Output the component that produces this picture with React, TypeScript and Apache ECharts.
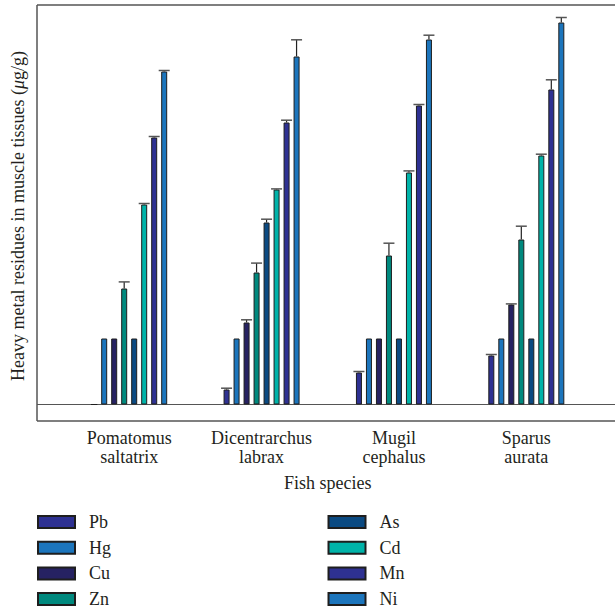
import React, { useEffect, useRef } from "react";
import * as echarts from "echarts";

const species = ["Pomatomus\nsaltatrix", "Dicentrarchus\nlabrax", "Mugil\ncephalus", "Sparus\naurata"];
const metals = ["Pb", "Hg", "Cu", "Zn", "As", "Cd", "Mn", "Ni"];
const metalColors = ["#2e3192", "#1c75bc", "#262262", "#00897e", "#0b4a82", "#00b3a9", "#2e3192", "#1c75bc"];

// Relative residue levels (arbitrary units) per metal, across species
const pb = [0, 15, 32, 49];
const hg = [66, 66, 66, 66];
const cu = [66, 82, 66, 100];
const zn = [116, 132, 149, 165];
const as = [66, 182, 66, 66];
const cd = [200, 215, 232, 249];
const mn = [267, 282, 299, 315];
const ni = [333, 348, 365, 382];

// Error (upper) per metal, across species
const pbErr = [0, 1.3, 1, 1];
const hgErr = [0, 0, 0, 0];
const cuErr = [0, 2.7, 0, 0.6];
const znErr = [6.6, 9.4, 12.3, 13.3];
const asErr = [0, 3.3, 0, 0];
const cdErr = [1, 0.6, 1.6, 1.3];
const mnErr = [1, 2.3, 1, 9.7];
const niErr = [1, 16.7, 4.3, 5];

const values = [pb, hg, cu, zn, as, cd, mn, ni];
const errors = [pbErr, hgErr, cuErr, znErr, asErr, cdErr, mnErr, niErr];

const FONT = "Liberation Serif";
const TEXT = "#231f20";
const BAR_W = 6;
const BAR_GAP_PX = 4;

export default function App() {
  const ref = useRef<HTMLDivElement>(null);
  useEffect(() => {
    if (!ref.current) return;
    const chart = echarts.init(ref.current, undefined, { renderer: "svg" });
    const errData: number[][] = [];
    errors.forEach((arr, si) => {
      arr.forEach((e, ci) => {
        if (e > 0) errData.push([ci, si, values[si][ci], e]);
      });
    });
    const pitch = BAR_W + BAR_GAP_PX;
    const barSeries = metals.map((m, i) => ({
      type: "bar",
      name: m,
      data: values[i],
      barWidth: BAR_W,
      barGap: (BAR_GAP_PX / BAR_W) * 100 + "%",
      itemStyle: { color: metalColors[i], borderColor: "#1e1e1e", borderWidth: 1 },
      emphasis: { disabled: true },
    }));
    const option: any = {
      animation: false,
      backgroundColor: "#ffffff",
      textStyle: { fontFamily: FONT, color: TEXT },
      grid: { left: 63, right: 22.5, top: 5, bottom: 191 },
      xAxis: {
        type: "category",
        data: species,
        axisLine: { show: false, onZero: false },
        axisTick: { show: false },
        axisLabel: { fontFamily: FONT, fontSize: 18, lineHeight: 19, color: TEXT, margin: 7 },
        name: "Fish species",
        nameLocation: "middle",
        nameGap: 53,
        nameTextStyle: { fontFamily: FONT, fontSize: 18, color: TEXT },
      },
      yAxis: {
        type: "value",
        min: -16.5,
        max: 399.5,
        show: false,
        splitLine: { show: false },
      },
      legend: [
        {
          data: metals.slice(0, 4),
          orient: "vertical",
          left: 37,
          top: 513,
          padding: 0,
          itemWidth: 37,
          itemHeight: 12,
          itemGap: 7.7,
          selectedMode: false,
          icon: "rect",
          textStyle: { fontFamily: FONT, fontSize: 18, color: TEXT, padding: [0, 0, 0, 9] },
        },
        {
          data: metals.slice(4),
          orient: "vertical",
          left: 327.5,
          top: 513,
          padding: 0,
          itemWidth: 37,
          itemHeight: 12,
          itemGap: 7.7,
          selectedMode: false,
          icon: "rect",
          textStyle: { fontFamily: FONT, fontSize: 18, color: TEXT, padding: [0, 0, 0, 9] },
        },
      ],
      series: [
        ...barSeries,
        {
          type: "custom",
          name: "err",
          data: errData,
          encode: { x: 0, y: 2 },
          z: 5,
          renderItem: (params: any, api: any) => {
            const cat = api.value(0);
            const si = api.value(1);
            const v = api.value(2);
            const e = api.value(3);
            const base = api.coord([cat, v]);
            const top = api.coord([cat, v + e]);
            const x = base[0] + (si - 3.5) * pitch;
            return {
              type: "group",
              children: [
                { type: "line", shape: { x1: x, y1: base[1], x2: x, y2: top[1] }, style: { stroke: "#222", lineWidth: 1.2 } },
                { type: "line", shape: { x1: x - 5.5, y1: top[1], x2: x + 5.5, y2: top[1] }, style: { stroke: "#555", lineWidth: 1.5 } },
              ],
            };
          },
        },
      ],
    };
    chart.setOption(option);
    const y0 = chart.convertToPixel({ yAxisIndex: 0 }, 0) as number;
    const yTop = chart.convertToPixel({ yAxisIndex: 0 }, 399.5) as number;
    const yBot = chart.convertToPixel({ yAxisIndex: 0 }, -16.5) as number;
    const lineStyle = { stroke: "#555", lineWidth: 1.5 };
    chart.setOption({
      graphic: [
        { type: "line", shape: { x1: 37, y1: yTop, x2: 615, y2: yTop }, style: lineStyle, z: 1 },
        { type: "line", shape: { x1: 37, y1: yTop, x2: 37, y2: yBot }, style: lineStyle, z: 1 },
        { type: "line", shape: { x1: 37, y1: yBot, x2: 615, y2: yBot }, style: lineStyle, z: 1 },
        { type: "line", shape: { x1: 37, y1: y0, x2: 615, y2: y0 }, style: { stroke: "#555", lineWidth: 1.2 }, z: 0 },
        {
          type: "text",
          x: 18,
          y: 216,
          rotation: Math.PI / 2,
          style: {
            text: "Heavy metal residues in muscle tissues ({i|μ}g/g)",
            fontFamily: FONT,
            fontSize: 18,
            fill: TEXT,
            align: "center",
            verticalAlign: "middle",
            rich: { i: { fontFamily: FONT, fontSize: 18, fontStyle: "italic", fill: TEXT } },
          },
        },
      ],
    });
    return () => chart.dispose();
  }, []);
  return <div ref={ref} style={{ position: "fixed", left: 0, top: 0, width: 615, height: 612 }} />;
}
